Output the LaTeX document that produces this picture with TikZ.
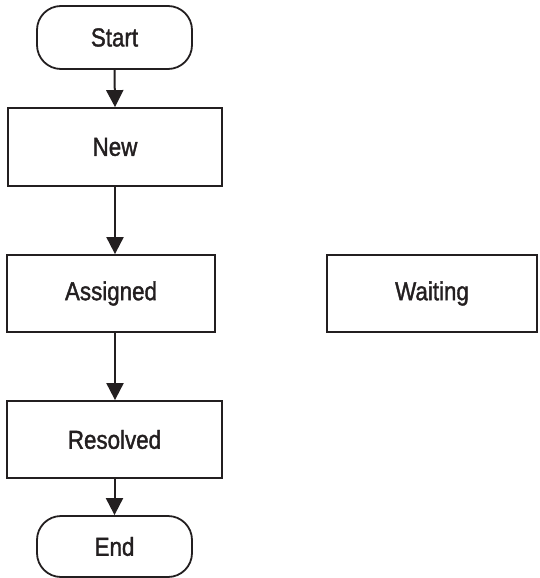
\documentclass[tikz,border=0pt]{standalone}
\usepackage{fontspec}
\setmainfont{Liberation Sans}[FakeStretch=0.86,FakeBold=1.4]
\usetikzlibrary{arrows.meta}
\definecolor{ink}{HTML}{231F20}
\begin{document}
\begin{tikzpicture}[x=1pt,y=1pt,
  box/.style={draw=ink,line width=1.8pt,text=ink,inner sep=0pt,font=\fontsize{26}{30}\selectfont},
  term/.style={box,rounded corners=24pt},
  flow/.style={draw=ink,line width=2pt,-{Triangle[width=17pt,length=17pt]}}]
\useasboundingbox (0,0) rectangle (539,-578);
\node[term,minimum width=155pt,minimum height=63pt] (start) at (114.5,-37.5) {Start};
\node[box,minimum width=214pt,minimum height=78pt] (new) at (115,-147) {New};
\node[box,minimum width=208pt,minimum height=77pt] (assigned) at (111,-293.5) {Assigned};
\node[box,minimum width=210pt,minimum height=77pt] (waiting) at (432,-293.5) {Waiting};
\node[box,minimum width=215pt,minimum height=77pt] (resolved) at (114.5,-439.5) {Resolved};
\node[term,minimum width=155pt,minimum height=61pt] (end) at (114.5,-546.5) {End};
\draw[flow] (start.south) -- (new.north);
\draw[flow] (new.south) -- (new.south |- assigned.north);
\draw[flow] (new.south |- assigned.south) -- (new.south |- resolved.north);
\draw[flow] (resolved.south) -- (end.north);
\end{tikzpicture}
\end{document}
